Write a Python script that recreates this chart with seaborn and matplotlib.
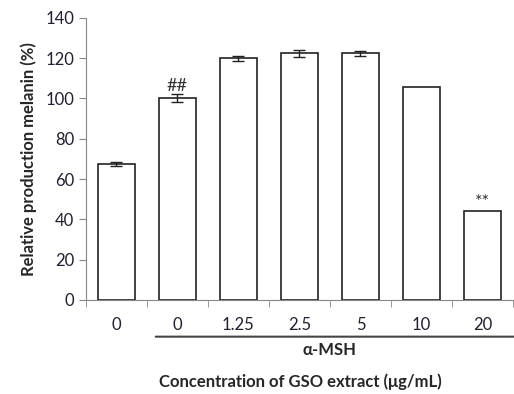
import numpy as np
import pandas as pd
import seaborn as sns
import matplotlib
matplotlib.use("Agg")
from matplotlib import pyplot as plt

# values
groups = ["0", "0 ", "1.25", "2.5", "5", "10", "20"]
melanin = [67.5, 100.2, 120.0, 122.5, 122.5, 105.5, 44.2]
err = [1.2, 1.8, 1.2, 1.8, 1.2, 0.0, 0.0]
marks = ["", "##", "", "", "", "", "**"]
tick_text = ["0", "0", "1.25", "2.5", "5", "10", "20"]

sns.set_style("white")
plt.rcParams["font.family"] = ["Lato", "DejaVu Sans"]

df = pd.DataFrame({"group": groups, "melanin": melanin})

fig = plt.figure(figsize=(5.14, 3.94), dpi=100)
ax = fig.add_axes([0.167, 0.2386, 0.831, 0.716])

sns.barplot(data=df, x="group", y="melanin", color="white", edgecolor="#222222",
            linewidth=1.2, width=0.6, errorbar=None, ax=ax)
xs = np.arange(len(groups))
has_err = np.array(err) > 0
ax.errorbar(xs[has_err], np.array(melanin)[has_err], yerr=np.array(err)[has_err],
            fmt="none", ecolor="#222222", elinewidth=1, capsize=4, capthick=1)
for x, v, e, m in zip(xs, melanin, err, marks):
    if m:
        ax.text(x, v + e + 0.3, m, ha="center", va="bottom", fontsize=13, color="#333333")

ax.set_xlim(-0.5, len(groups) - 0.5)
ax.set_ylim(0, 140)
ax.set_yticks(np.arange(0, 141, 20))
ax.set_xticks(xs)
ax.set_xticklabels(tick_text)
ax.set_xticks(np.arange(-0.5, len(groups), 1), minor=True)
ax.tick_params(axis="x", which="major", length=0, pad=12, labelsize=12, labelcolor="#202030")
ax.tick_params(axis="x", which="minor", length=5, direction="out", color="#888888", bottom=True)
ax.tick_params(axis="y", length=5, direction="out", color="#888888", left=True,
               labelsize=12, labelcolor="#202030")
for s in ["top", "right"]:
    ax.spines[s].set_visible(False)
for s in ["left", "bottom"]:
    ax.spines[s].set_color("#888888")

ax.set_xlabel("")
ax.set_ylabel("Relative production melanin (%)", fontsize=12, fontweight="bold", labelpad=6)

# bracket under the alpha-MSH groups
ax.annotate("", xy=(0.6, -0.13), xytext=(6.7, -0.13), xycoords=("data", "axes fraction"),
            arrowprops=dict(arrowstyle="-", color="#444444", lw=1.5), annotation_clip=False)
ax.text(3.5, -0.178, "α-MSH", transform=ax.get_xaxis_transform(), ha="center", va="center",
        fontsize=12, fontweight="bold")
fig.text(0.585, 0.03, "Concentration of GSO extract (μg/mL)", ha="center", va="center",
         fontsize=12, fontweight="bold")

fig.savefig("out.png", dpi=100)
